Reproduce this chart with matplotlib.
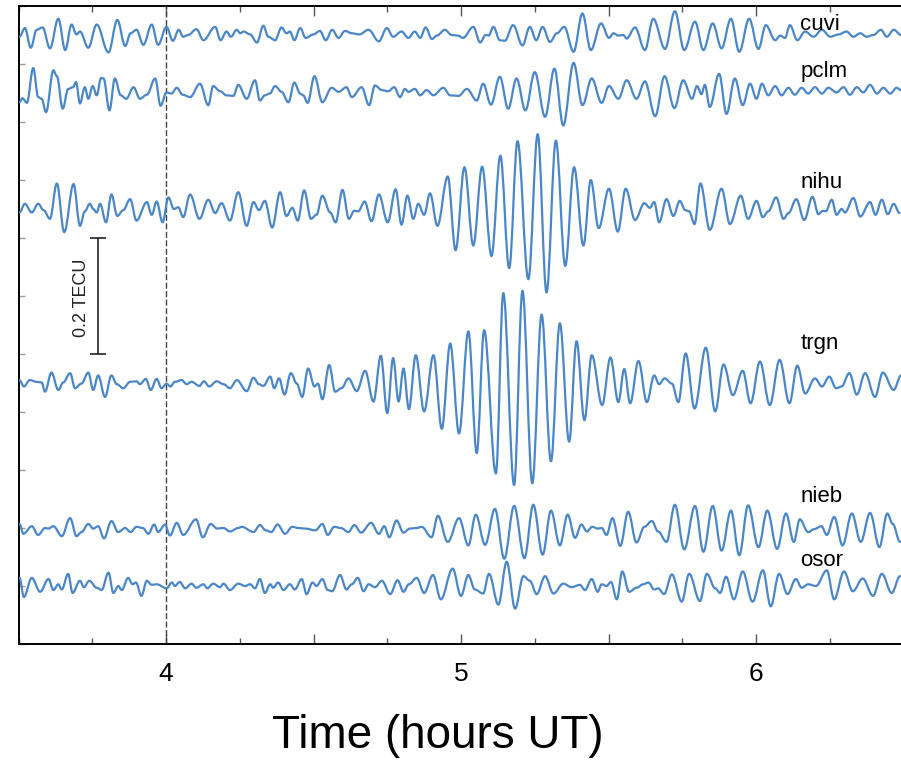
import matplotlib
matplotlib.use('Agg')
import matplotlib.pyplot as plt
from matplotlib.path import Path
from matplotlib.patches import PathPatch
from matplotlib.ticker import FixedLocator, FixedFormatter, MultipleLocator, NullFormatter

plt.rcParams['font.family'] = ['Liberation Sans', 'DejaVu Sans']

# ---- data: (minutes after 03:30 UT, dTEC in mTECU), read as successive extrema ----
cuvi = [(0.2,-3),(1.3,12),(2.5,-22),(3.7,9),(4.9,13),(6.4,-23),(8.1,28),(9.5,-26),(10.8,18),(11.8,1),
        (12.5,6),(14.2,-22),(15.9,18),(18.3,-30),(20.1,26),(21.7,-19),(22.8,3),(24.0,9),(25.4,-17),(27.1,18),
        (28.4,-17),(30.1,14),(31.4,-10),(32.6,9),(33.5,-3),(34.5,0),(36.2,10),(37.6,-9),(40.0,14),(41.1,-9),
        (42.3,6),(43.2,-3),(44.4,9),(45.1,3),(45.8,6),(47.1,1),(48.5,-13),(49.8,16),(50.8,-3),(52.2,-9),
        (53.5,13),(54.5,3),(55.2,6),(56.1,-9),(57.3,12),(58.4,-5),(60.0,1),(61.3,7),(62.5,-9),(63.8,9),
        (65.1,-5),(66.4,7),(67.8,3),(69.3,1),(71.2,9),(73.3,-11),(74.9,12),(76.2,-3),(77.9,6),(79.3,-5),
        (80.6,6),(81.7,-5),(82.8,13),(84.1,-7),(85.1,-1),(86.7,9),(88.1,0),(89.4,-1),(90.4,-5),(92.5,14),
        (93.9,-13),(95.0,0),(95.6,-1),(96.6,14),(97.9,-9),(98.9,-10),(100.6,17),(102.5,-18),(104.0,14),(105.3,-9),
        (106.6,14),(108.1,-12),(109.5,3),(111.0,14),(112.9,-29),(114.7,37),(116.4,-26),(118.5,20),(120.1,-5),(121.0,3),
        (122.0,-1),(123.0,0),(123.7,-6),(125.4,13),(127.4,-26),(129.1,28),(131.5,-24),(133.5,41),(135.4,-26),(137.6,23),
        (139.3,-26),(141.2,20),(143.0,-23),(144.9,28),(146.6,-29),(148.6,28),(150.5,-24),(152.0,17),(153.9,-9),(154.9,-1),
        (155.9,-5),(156.9,17),(158.4,-9),(160.0,6),(161.7,-3),(163.4,9),(165.1,-3),(166.8,1),(168.4,6),(169.8,-3),
        (171.2,3),(172.5,-3),(173.9,0),(175.4,9),(176.6,-3),(178.0,9),(179.5,0)]

pclm = [(0.2,-16),(0.8,-9),(1.7,-17),(3.0,43),(4.0,-7),(4.7,-10),(5.6,-33),(7.1,39),(7.8,29),(9.0,-27),
        (10.1,7),(11.1,10),(11.7,19),(12.5,-18),(13.5,10),(14.2,-10),(15.1,12),(15.9,-4),(16.8,26),(17.3,25),
        (18.5,-30),(19.6,25),(20.8,-4),(21.9,-10),(23.4,10),(24.7,-10),(26.1,-3),(27.8,25),(28.9,-22),(30.1,1),
        (31.1,-1),(32.2,9),(33.4,-3),(34.9,-7),(36.9,16),(38.6,-21),(39.6,12),(41.0,3),(42.3,-4),(43.7,-5),
        (44.7,14),(46.4,-10),(48.1,22),(49.1,-13),(50.1,-4),(51.1,-1),(52.2,12),(53.5,2),(54.9,-16),(56.1,18),
        (57.3,-1),(57.9,-4),(58.8,-17),(60.2,29),(61.8,-16),(63.7,9),(65.1,2),(66.7,10),(67.8,-7),(69.8,10),
        (71.3,-21),(72.5,13),(73.9,5),(75.2,3),(76.4,10),(77.6,-7),(78.6,7),(79.3,2),(80.6,7),(81.7,-4),
        (83.0,5),(84.4,-4),(86.4,9),(87.8,-4),(89.5,-5),(91.2,7),(93.2,-13),(94.5,16),(96.1,-20),(97.9,28),
        (99.6,-27),(101.3,25),(103.1,-30),(105.0,36),(107.1,-41),(109.0,42),(110.8,-56),(112.9,52),(114.7,-21),(116.6,25),
        (118.6,-17),(120.1,12),(122.0,-10),(123.7,22),(125.7,-10),(127.4,20),(129.5,-40),(131.4,29),(133.4,-26),(135.2,22),
        (137.0,-10),(138.0,12),(138.9,-2),(139.6,14),(140.6,-24),(142.5,33),(144.0,-36),(145.7,25),(147.3,-21),(148.8,16),
        (150.1,-10),(151.2,16),(152.5,-4),(153.9,12),(155.2,-4),(156.6,9),(157.9,-3),(159.3,9),(160.6,-1),(162.0,10),
        (163.4,-1),(164.7,9),(166.4,1),(167.8,10),(169.1,-3),(170.5,10),(171.8,1),(173.2,14),(174.6,-1),(175.9,9),
        (177.3,-1),(178.6,9),(179.5,5)]

nihu = [(0.2,-6),(1.3,9),(2.7,-6),(4.0,9),(5.1,-2),(6.4,-17),(7.8,44),(9.3,-40),(11.2,43),(12.5,-29),
        (13.5,-4),(14.5,9),(15.2,0),(15.9,-6),(16.6,9),(17.8,-23),(18.9,25),(20.1,-12),(21.3,-2),(22.7,17),
        (24.0,-20),(26.1,12),(27.1,-10),(28.1,13),(29.3,-23),(30.5,20),(31.6,0),(32.5,3),(33.5,-14),(34.9,25),
        (36.8,-17),(38.6,16),(40.0,-7),(41.3,10),(43.0,-20),(44.7,29),(46.4,-29),(47.8,12),(48.9,-2),(50.1,14),
        (51.6,-32),(53.2,29),(54.5,-12),(55.7,2),(56.8,-20),(58.1,32),(59.5,-17),(60.6,-10),(61.8,23),(63.4,-6),
        (64.5,-23),(65.9,33),(67.2,-17),(68.3,-3),(69.1,-4),(70.4,13),(71.8,-21),(73.3,25),(75.1,-23),(76.7,34),
        (77.9,-27),(79.1,23),(80.3,-17),(81.3,9),(82.5,-10),(83.7,27),(85.2,-29),(87.3,56),(88.9,-71),(90.7,72),
        (92.5,-63),(94.3,73),(96.2,-81),(98.0,92),(99.8,-102),(101.5,117),(103.7,-121),(105.6,129),(107.4,-144),(109.3,118),
        (111.2,-98),(113.0,72),(114.9,-63),(116.4,50),(118.0,-33),(120.1,35),(121.9,-39),(123.5,35),(125.4,-19),(127.3,10),
        (128.4,2),(129.3,12),(130.3,-23),(131.8,17),(133.2,-12),(134.5,14),(135.6,-2),(136.4,-4),(137.5,-26),(138.7,44),
        (140.6,-36),(143.0,35),(144.7,-26),(146.9,23),(148.4,-17),(150.1,14),(151.4,-14),(152.5,-4),(154.1,20),(155.6,-17),
        (156.6,-7),(158.2,17),(159.8,-19),(161.5,21),(162.7,-9),(163.6,-3),(164.2,-4),(165.4,16),(166.4,-10),(167.4,0),
        (168.1,-6),(169.8,19),(171.2,-13),(173.2,12),(174.3,-10),(175.6,16),(176.8,-9),(178.0,9),(179.2,-7)]

trgn = [(0.2,5),(1.1,-6),(2.3,5),(3.7,2),(4.7,1),(5.4,-15),(6.7,18),(8.1,-12),(9.1,1),(10.5,17),
        (11.5,-9),(12.8,-1),(14.2,18),(15.2,-12),(16.2,13),(17.6,-24),(18.9,13),(20.0,-2),(21.3,-9),(22.7,2),
        (24.0,3),(24.7,-2),(25.9,7),(26.9,-12),(28.1,7),(29.1,-9),(30.1,-1),(30.9,-6),(31.8,2),(33.2,5),
        (34.2,-2),(35.2,2),(36.8,-5),(37.7,3),(38.8,-6),(40.3,3),(41.7,-2),(43.0,-9),(44.4,5),(46.4,-14),
        (47.8,9),(48.9,-2),(49.8,-5),(51.2,11),(52.0,-9),(53.0,8),(54.1,-20),(55.4,17),(56.6,-1),(57.7,-24),
        (58.9,25),(60.2,-6),(60.9,-1),(61.8,-28),(63.2,31),(64.4,-15),(65.7,-9),(67.1,8),(68.8,-14),(70.5,21),
        (72.2,-32),(73.7,47),(75.0,-52),(76.2,43),(77.3,-32),(78.3,25),(79.4,-45),(80.8,48),(82.5,-49),(84.4,48),
        (86.1,-79),(87.8,68),(89.6,-87),(91.5,89),(93.2,-121),(94.7,91),(97.1,-156),(98.6,155),(100.8,-176),(102.5,159),
        (104.5,-173),(106.4,118),(108.3,-135),(110.1,103),(112.0,-101),(113.5,72),(115.1,-64),(116.6,48),(118.7,-38),(120.4,44),
        (122.0,-33),(123.2,24),(124.4,-35),(126.1,38),(127.8,-33),(129.3,13),(130.3,-2),(131.4,8),(132.9,-1),(134.2,-33),
        (135.7,51),(137.5,-44),(139.8,61),(141.7,-49),(143.4,32),(145.3,-21),(147.3,21),(148.9,-35),(150.8,37),(152.8,-38),
        (154.8,40),(156.8,-35),(158.4,30),(160.0,-18),(162.0,8),(163.4,-6),(164.9,11),(166.3,-9),(167.4,-6),(169.0,17),
        (170.5,-20),(172.2,17),(174.2,-24),(175.8,18),(178.0,-12),(179.5,13)]

nieb = [(0.2,7),(1.0,-10),(2.7,3),(4.0,-12),(5.4,0),(6.1,-1),(7.1,3),(8.8,-14),(10.5,17),(11.8,-14),
        (12.8,-7),(14.2,7),(15.2,-1),(16.2,3),(17.4,-18),(18.9,12),(20.3,-7),(21.7,0),(22.8,-7),(24.0,2),
        (25.3,0),(26.4,-10),(27.6,6),(28.4,-7),(29.8,6),(30.8,-13),(32.2,9),(33.5,-12),(36.1,15),(37.5,-16),
        (39.1,7),(40.4,-1),(41.7,0),(43.0,-6),(44.7,0),(45.4,2),(47.8,-7),(49.1,5),(50.3,-4),(51.4,-7),
        (52.7,6),(54.2,-10),(55.7,2),(56.9,0),(58.3,-1),(60.4,-4),(61.8,7),(62.9,-12),(64.2,2),(65.6,0),
        (67.1,-7),(68.3,5),(69.7,-8),(71.7,9),(73.3,-10),(74.4,3),(75.4,-16),(76.9,13),(78.3,-8),(79.6,-1),
        (81.0,0),(82.0,2),(84.0,-16),(85.3,21),(87.3,-24),(89.6,17),(91.5,-30),(93.0,23),(94.9,-29),(96.9,33),
        (98.8,-53),(100.8,38),(102.9,-52),(104.7,40),(106.6,-46),(108.3,30),(110.1,-30),(111.7,23),(113.2,-17),(114.5,6),
        (115.6,-6),(116.7,2),(117.8,-1),(118.6,0),(119.6,-12),(120.8,17),(122.4,-31),(124.0,28),(125.7,-25),(127.3,2),
        (128.8,12),(130.1,-6),(131.8,-24),(133.5,40),(135.4,-37),(137.6,38),(139.3,-41),(141.2,38),(143.0,-39),(144.9,30),
        (146.6,-47),(148.4,39),(150.5,-33),(152.3,30),(154.3,-36),(156.1,25),(157.7,-24),(158.9,15),(160.6,-7),(161.8,-2),
        (163.3,3),(164.4,-12),(165.9,19),(167.6,-30),(169.5,25),(171.3,-24),(173.2,26),(175.1,-33),(176.7,25),(177.8,7),
        (179.3,-24)]

osor = [(0.2,14),(1.1,-19),(2.7,14),(4.4,-10),(6.1,12),(7.1,-7),(8.1,3),(8.8,-6),(10.1,21),(11.0,-12),
        (12.5,9),(13.3,-2),(14.4,9),(15.9,-3),(16.9,-7),(18.3,23),(19.3,-12),(20.3,0),(21.0,-7),(22.3,14),
        (23.2,3),(23.9,6),(25.0,-17),(26.1,9),(27.1,2),(28.1,3),(30.1,-4),(31.2,6),(31.8,0),(32.8,7),
        (33.9,-4),(35.2,4),(36.2,-3),(37.6,3),(38.4,-4),(39.6,4),(41.0,-2),(41.7,4),(43.0,-7),(44.7,4),
        (46.1,0),(47.1,3),(48.1,-4),(49.1,12),(50.1,-12),(51.2,3),(51.8,-3),(52.8,6),(53.9,-7),(55.2,3),
        (56.2,-6),(57.6,12),(58.6,-14),(59.8,6),(60.6,0),(61.8,12),(62.9,-7),(63.8,-9),(65.4,19),(66.7,-6),
        (67.8,3),(69.0,14),(70.2,-9),(71.2,3),(72.5,-2),(73.9,9),(75.6,-14),(77.1,10),(78.3,-10),(79.4,3),
        (81.0,14),(82.5,-12),(84.3,19),(85.9,-23),(88.3,30),(90.0,-17),(91.5,19),(92.8,-6),(94.5,-13),(95.7,21),
        (97.6,-32),(99.3,42),(101.0,-39),(102.7,17),(104.0,9),(105.4,-14),(107.1,17),(108.8,-13),(110.8,4),(112.5,-2),
        (114.2,2),(115.2,-7),(116.6,12),(117.8,-10),(118.6,3),(119.6,0),(120.5,7),(121.7,-23),(122.8,25),(124.2,-10),
        (125.7,-3),(127.1,3),(128.1,6),(129.3,-6),(130.1,-4),(131.3,-14),(132.9,20),(134.9,-27),(136.4,21),(138.6,-26),
        (140.0,21),(141.7,-4),(142.7,-12),(143.9,16),(145.5,-23),(147.3,25),(149.3,-27),(151.4,27),(153.0,-35),(154.7,21),
        (156.4,-14),(158.1,12),(159.3,-3),(160.6,3),(162.2,0),(164.4,27),(165.9,-23),(167.9,25),(169.7,-9),(171.7,13),
        (173.8,-17),(175.6,21),(177.6,-12),(179.3,17)]

stations = ['cuvi', 'pclm', 'nihu', 'trgn', 'nieb', 'osor']
series = {'cuvi': cuvi, 'pclm': pclm, 'nihu': nihu, 'trgn': trgn, 'nieb': nieb, 'osor': osor}

# ---- layout (vertical offsets of each trace, mTECU) ----
offsets = {'cuvi': 1050, 'pclm': 950, 'nihu': 750, 'trgn': 450, 'nieb': 200, 'osor': 100}
label_y = {'cuvi': 1059, 'pclm': 978, 'nihu': 786, 'trgn': 509, 'nieb': 245, 'osor': 135}

T0 = 3.5            # hours UT at minute 0
LINE_COLOR = '#4B87C8'
K = 0.36            # Bezier handle fraction for smooth drawing

fig = plt.figure(figsize=(9.01, 7.6), dpi=100)
ax = fig.add_axes([18.5 / 901, 116 / 760, 882.5 / 901, 638 / 760])

for name in stations:
    pts = series[name]
    xs = [T0 + t / 60.0 for t, _ in pts]
    ys = [offsets[name] + v for _, v in pts]
    verts = [(xs[0], ys[0])]
    codes = [Path.MOVETO]
    for i in range(len(xs) - 1):
        dx = xs[i + 1] - xs[i]
        verts += [(xs[i] + K * dx, ys[i]), (xs[i + 1] - K * dx, ys[i + 1]), (xs[i + 1], ys[i + 1])]
        codes += [Path.CURVE4] * 3
    ax.add_patch(PathPatch(Path(verts, codes), fill=False, edgecolor=LINE_COLOR,
                           lw=1.6, joinstyle='round', capstyle='round', zorder=3))
    ax.text(6.15, label_y[name], name, fontsize=16, ha='left', va='baseline', color='black', zorder=4)

ax.set_xlim(3.5, 3.5 + 882.5 / 295)
ax.set_ylim(0, 1100)

# dashed marker line
ax.axvline(4.0, color='#444444', lw=1.0, ls=(0, (4.3, 1.8)), zorder=2)

# scale bar 0.2 TECU
ax.errorbar([3.768], [600], yerr=[100], color='#222222', lw=1.2, capsize=5.5, capthick=1.2, zorder=4)
ax.text(3.714, 597, '0.2 TECU', rotation=90, ha='center', va='center', fontsize=13, color='#222222')

# axes styling
for side in ['left', 'bottom', 'top']:
    ax.spines[side].set_linewidth(1.4)
    ax.spines[side].set_color('black')
ax.spines['right'].set_visible(False)

ax.xaxis.set_major_locator(FixedLocator([4, 4.5, 5, 5.5, 6]))
ax.xaxis.set_major_formatter(FixedFormatter(['4', '', '5', '', '6']))
ax.xaxis.set_minor_locator(MultipleLocator(0.25))
ax.tick_params(axis='x', which='major', direction='in', length=7, width=1.0, color='#555555',
               top=True, bottom=True, labelsize=19, pad=13)
ax.tick_params(axis='x', which='minor', direction='in', length=4, width=1.0, color='#555555',
               top=True, bottom=True)
ax.yaxis.set_major_locator(MultipleLocator(100))
ax.yaxis.set_major_formatter(NullFormatter())
ax.tick_params(axis='y', which='major', direction='in', length=4, width=1.0, color='#999999',
               left=True, right=False)

ax.set_xlabel('Time (hours UT)', fontsize=33)
ax.xaxis.label.set_verticalalignment('center')
ax.xaxis.set_label_coords((438 - 18.5) / 882.5, (644 - 736) / 638)

fig.savefig('out.png', dpi=100)
